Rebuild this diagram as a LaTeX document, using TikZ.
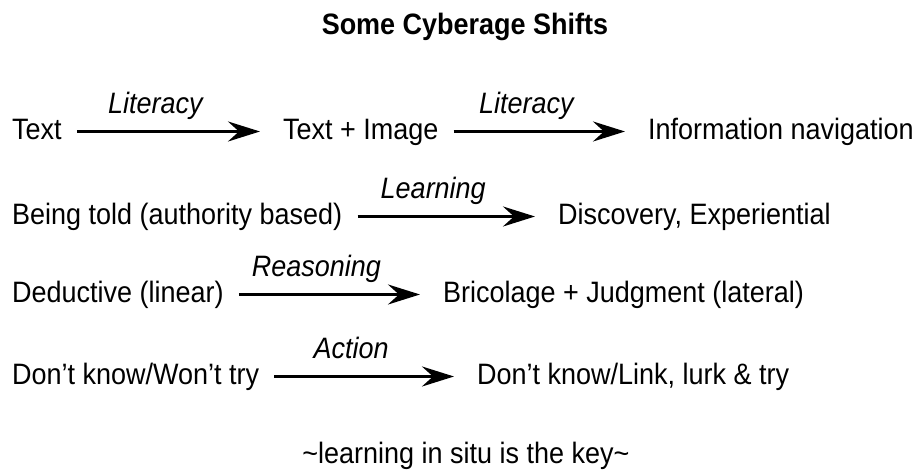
\documentclass[tikz,border=0pt]{standalone}
\usepackage{fontspec}
\setmainfont{Liberation Sans}[FakeStretch=0.915]
\usetikzlibrary{arrows.meta}

\begin{document}
\begin{tikzpicture}[x=1pt,y=1pt,
		every node/.style={inner sep=0pt,font=\fontsize{29.5}{34}\selectfont},
		term/.style={anchor=base west,text height=22pt,text depth=5pt},
		cyberarrow/.style={line width=3pt,-{Stealth[length=32pt,width=20pt,inset=11pt]},shorten <=15pt,shorten >=23pt},
		kind/.style={midway,anchor=base,xshift=-17pt,yshift=18pt,font=\fontsize{29.5}{34}\selectfont\itshape}]
		\useasboundingbox (0,0) rectangle (921,474);
		\node [anchor=base,font=\fontsize{29.5}{34}\selectfont\bfseries] (title) at (465,439) {Some Cyberage Shifts};
		% literacy
		\node [term] (text) at (12,334) {Text};
		\node [term] (image) at (283,334) {Text + Image};
		\node [term] (nav) at (648,334) {Information navigation};
		\draw [cyberarrow] (text.east) -- node [kind] {Literacy} (image.west);
		\draw [cyberarrow] (image.east) -- node [kind] {Literacy} (nav.west);
		% learning
		\node [term] (told) at (12,249) {Being told (authority based)};
		\node [term] (disc) at (558,249) {Discovery, Experiential};
		\draw [cyberarrow] (told.east) -- node [kind] {Learning} (disc.west);
		% reasoning
		\node [term] (deduct) at (12,171) {Deductive (linear)};
		\node [term] (brico) at (443,171) {Bricolage + Judgment (lateral)};
		\draw [cyberarrow] (deduct.east) -- node [kind] {Reasoning} (brico.west);
		% action
		\node [term] (wont) at (12,89) {Don’t know/Won’t try};
		\node [term] (lurk) at (477,89) {Don’t know/Link, lurk \& try};
		\draw [cyberarrow] (wont.east) -- node [kind] {Action} (lurk.west);
		\node [anchor=base] (key) at (466,11) {\textasciitilde learning in situ is the key\textasciitilde};
\end{tikzpicture}
\end{document}
